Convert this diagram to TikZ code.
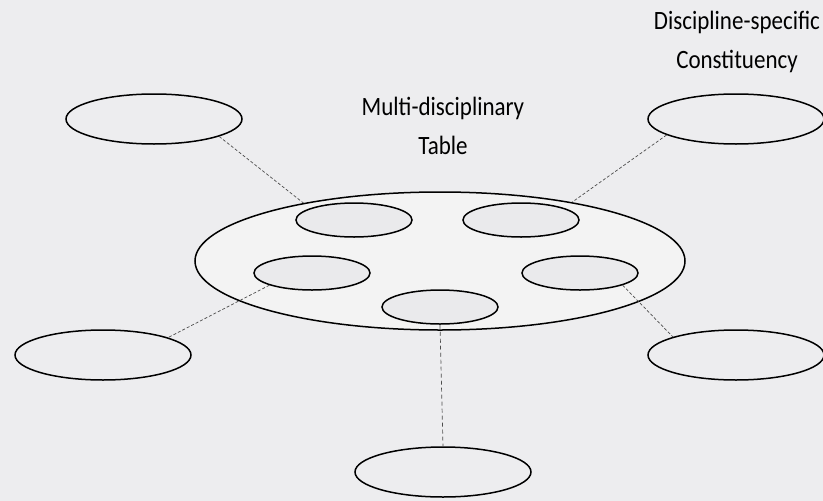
\documentclass[tikz,border=0pt]{standalone}
\usepackage{fontspec}
\setmainfont{Carlito}
\usepackage{tikz}
\usetikzlibrary{shapes.geometric,backgrounds,calc}
\definecolor{wallgray}{RGB}{237,237,239}
\definecolor{tablegray}{RGB}{243,243,243}
\definecolor{chairgray}{RGB}{234,234,236}
\newcommand{\tallword}[1]{\scalebox{1}[1.15]{#1}}

\begin{document}
\begin{tikzpicture}[x=1pt,y=-1pt,
  seat/.style={draw,ellipse,line width=1.5pt,inner sep=0pt,minimum width=176pt,minimum height=50pt},
  chair/.style={draw,ellipse,line width=1.5pt,inner sep=0pt,fill=chairgray,minimum width=116pt,minimum height=34pt},
  tie/.style={black!70,line width=0.7pt,dash pattern=on 3pt off 2pt},
  caption/.style={align=center,font=\fontsize{23}{39}\selectfont}]
\fill[wallgray] (0,0) rectangle (823,501);
\useasboundingbox (0,0) rectangle (823,501);
\node[draw,ellipse,line width=1.5pt,inner sep=0pt,fill=tablegray,minimum width=490pt,minimum height=138pt] (tab) at (440,261) {};
\node[chair] (c1) at (354,220) {};
\node[chair] (c2) at (521,220) {};
\node[chair] (c3) at (312,273) {};
\node[chair] (c4) at (580,273) {};
\node[chair] (c5) at (440,307) {};
\node[seat] (s1) at (154,119) {};
\node[seat] (s2) at (736,119) {};
\node[seat] (s3) at (103,355) {};
\node[seat] (s4) at (736,355) {};
\node[seat] (s5) at (443,472) {};
\node[caption] (mt) at (443,126) {\tallword{Multi-disciplinary}\\\tallword{Table}};
\node[caption] (dc) at (737,42) {\tallword{Discipline-specific}\\\tallword{Constituency}};
\draw[tie] (s1.-15) -- (tab.157);
\draw[tie] (s2.193) -- (tab.24);
\draw[tie] (c3.196) -- (s3.15);
\draw[tie] (c4.-16) -- (s4.164);
\draw[tie,dash pattern=on 4pt off 3pt] (c5.south) -- (s5.north);
\end{tikzpicture}
\end{document}
